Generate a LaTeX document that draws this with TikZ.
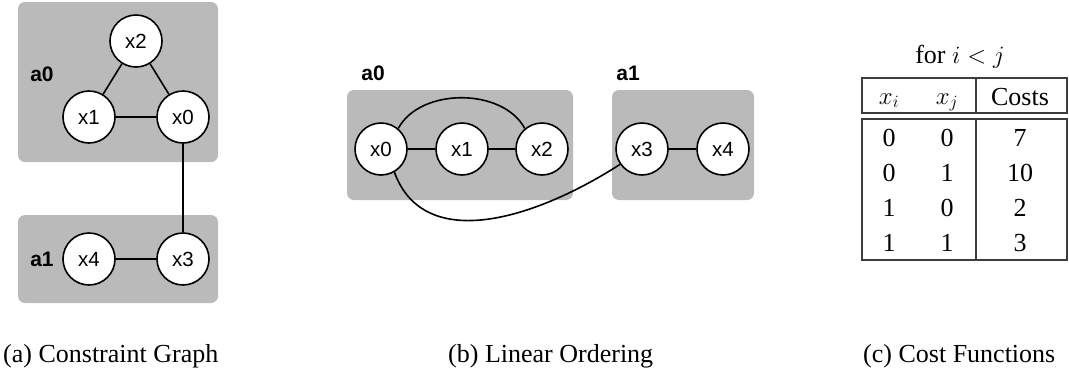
\documentclass[tikz,border=0pt]{standalone}
\usepackage{fontspec}
\setmainfont{Liberation Serif}
\newfontfamily\labsans{Liberation Sans}
\definecolor{boxgray}{RGB}{186,186,186}
\definecolor{rulegray}{RGB}{60,60,60}
\tikzset{
  var/.style={circle, draw=black, fill=white, line width=1.6pt, minimum size=52pt, inner sep=0pt, font=\labsans\fontsize{20.5}{24}\selectfont},
  agentbox/.style={fill=boxgray, rounded corners=7pt},
  agentlabel/.style={font=\labsans\bfseries\fontsize{21}{25}\selectfont, inner sep=0pt},
  edge/.style={line width=1.6pt},
  captiontext/.style={anchor=base west, font=\fontsize{26}{31}\selectfont, inner sep=0pt},
  cell/.style={anchor=base, font=\fontsize{26}{31}\selectfont, inner sep=0pt},
  tablerule/.style={draw=rulegray, line width=1.1pt}
}
\begin{document}
\begin{tikzpicture}[x=1pt,y=1pt]
\useasboundingbox (0,0) rectangle (1069,-373);
% ---------- (a) Constraint Graph ----------
\fill[agentbox] (18,-2) rectangle (218,-162);
\fill[agentbox] (18,-215) rectangle (218,-303);
\node[agentlabel] (aA0) at (42,-74) {a0};
\node[agentlabel] (aA1) at (42,-259) {a1};
\node[var] (ax2) at (136,-41) {x2};
\node[var] (ax1) at (89,-117) {x1};
\node[var] (ax0) at (183,-117) {x0};
\node[var] (ax4) at (89,-259) {x4};
\node[var] (ax3) at (183,-259) {x3};
\draw[edge] (ax2) -- (ax1);
\draw[edge] (ax2) -- (ax0);
\draw[edge] (ax1) -- (ax0);
\draw[edge] (ax0) -- (ax3);
\draw[edge] (ax4) -- (ax3);
\node[captiontext] (capa) at (3,-362) {(a) Constraint Graph};
% ---------- (b) Linear Ordering ----------
\fill[agentbox] (347,-90) rectangle (573,-200);
\fill[agentbox] (612,-90) rectangle (754,-200);
\node[agentlabel] (bA0) at (373,-73) {a0};
\node[agentlabel] (bA1) at (628,-73) {a1};
\node[var] (bx0) at (381,-149) {x0};
\node[var] (bx1) at (462,-149) {x1};
\node[var] (bx2) at (542,-149) {x2};
\node[var] (bx3) at (642,-149) {x3};
\node[var] (bx4) at (723,-149) {x4};
\draw[edge] (bx0) -- (bx1);
\draw[edge] (bx1) -- (bx2);
\draw[edge] (bx3) -- (bx4);
\draw[edge] (bx0.50) .. controls +(22,41) and +(-22,41) .. (bx2.130);
\draw[edge] (bx0.-60) .. controls +(30,-82) and +(-84,-54) .. (bx3.215);
\node[captiontext] (capb) at (448,-362) {(b) Linear Ordering};
% ---------- (c) Cost Functions ----------
\node[cell] (cond) at (960,-63) {for $i<j$};
\draw[tablerule] (862,-78) rectangle (1067,-113);
\draw[tablerule] (862,-119) rectangle (1067,-260);
\draw[tablerule] (976,-78) -- (976,-113);
\draw[tablerule] (976,-119) -- (976,-260);
\node[cell] (hxi) at (889,-104) {$x_i$};
\node[cell] (hxj) at (947,-104) {$x_j$};
\node[cell] (hc) at (1020,-105) {Costs};
\node[cell] (r1a) at (889,-146) {0};
\node[cell] (r1b) at (947,-146) {0};
\node[cell] (r1c) at (1020,-146) {7};
\node[cell] (r2a) at (889,-181) {0};
\node[cell] (r2b) at (947,-181) {1};
\node[cell] (r2c) at (1020,-181) {10};
\node[cell] (r3a) at (889,-216) {1};
\node[cell] (r3b) at (947,-216) {0};
\node[cell] (r3c) at (1020,-216) {2};
\node[cell] (r4a) at (889,-251) {1};
\node[cell] (r4b) at (947,-251) {1};
\node[cell] (r4c) at (1020,-251) {3};
\node[captiontext] (capc) at (863,-362) {(c) Cost Functions};
\end{tikzpicture}
\end{document}
